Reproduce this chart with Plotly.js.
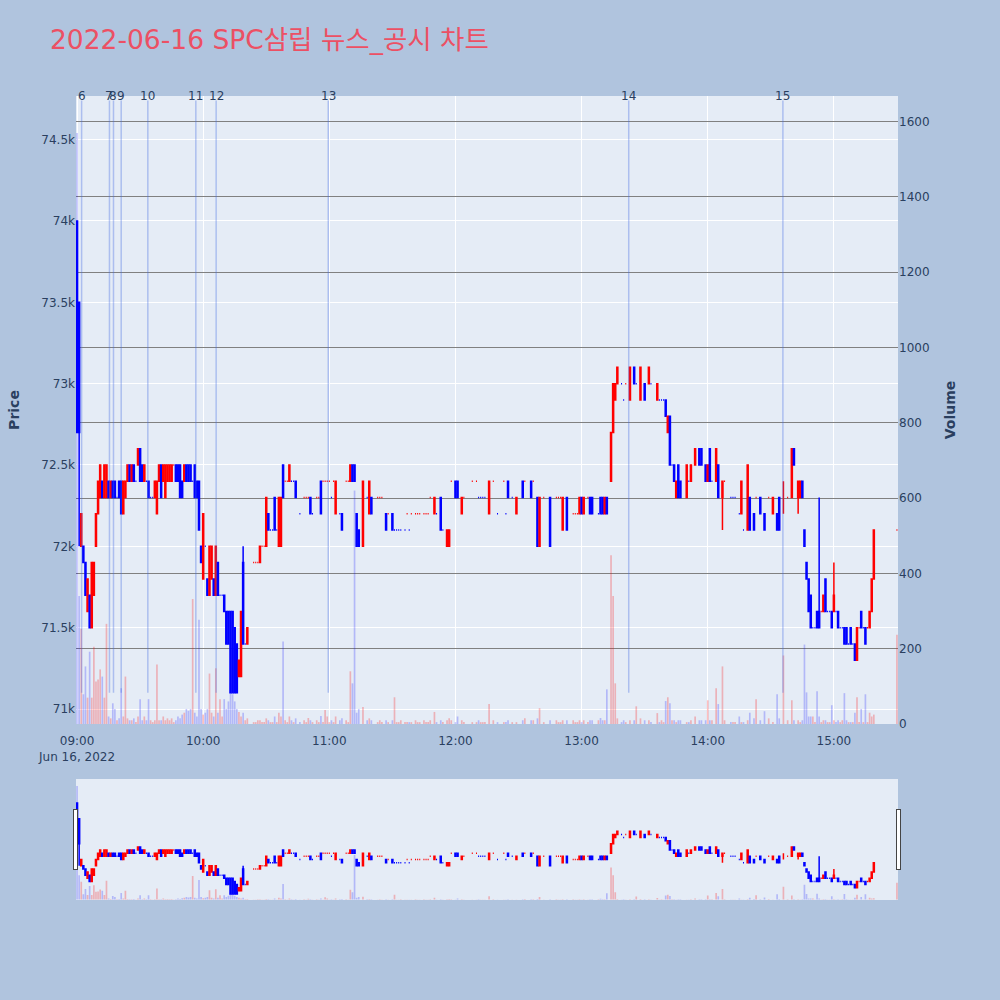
<!DOCTYPE html>
<html>
<head>
<meta charset="utf-8">
<script src="https://cdn.plot.ly/plotly-3.0.1.min.js"></script>
<style>
  body { margin: 0; background: #B0C4DE; }
  #chart { width: 1000px; height: 1000px; }
</style>
</head>
<body>
<div id="chart"></div>
<script>
// one slot per minute from 09:00 (null = no trade that minute), last slot is the 15:30 close
const startTime = "2022-06-16T09:00:00";

const openP = [
  74000,73500,72000,72000,71900,71600,71700,71500,71700,72000,
  72200,72300,72400,72300,72300,72400,72300,72400,72400,72300,
  72400,72400,72200,72300,72400,72500,72400,72500,72400,72500,
  72600,72500,72400,72400,72400,72300,72300,72300,72200,72400,
  72500,72400,72300,72400,72400,72400,72500,72500,72500,72500,
  72400,72400,72500,72500,72500,72400,72500,72400,72400,72000,
  71800,72000,71800,71700,71800,71800,71700,71900,71700,71700,
  71700,71600,71600,71600,71600,71500,71400,71200,71200,71900,
  71400,71400,null,null,71900,71900,71900,71900,72000,72000,
  72000,72200,72100,72100,72300,72100,72000,72000,72500,72400,
  72400,72400,72400,72400,72400,null,72200,null,72300,72300,
  72300,72300,72200,null,72300,72300,72400,72400,72400,72400,
  72400,72300,72400,72200,null,72200,72200,null,72400,72400,
  72400,72500,72500,72200,72100,null,72000,null,72300,72200,
  72300,null,null,72300,72300,72300,null,72200,72200,null,
  72200,72100,72100,72100,72100,null,72100,72200,72100,72200,
  null,72200,72200,72200,null,72200,72200,72200,72300,null,
  72200,72200,null,72300,72100,null,72000,72000,72400,null,
  72400,72400,null,72200,72300,null,null,null,72400,null,
  72400,72300,72300,72300,72300,null,72200,null,72400,null,
  72200,null,null,72400,72200,72400,null,72300,null,72200,
  null,null,72400,72400,null,null,72400,72400,null,72300,
  72000,null,72300,null,null,72300,null,null,72300,72300,
  72300,72100,null,72300,null,null,72200,72200,72200,72200,
  72300,72200,null,72300,72300,72300,null,null,72200,72300,
  72300,72200,72300,null,72400,72700,72900,73000,null,73000,
  72900,73000,null,72900,null,73100,73000,null,72900,null,
  73000,null,73000,73000,null,null,72900,72900,72900,72900,
  72900,72700,72800,72500,72500,72300,72500,72400,null,null,
  72300,72400,72400,null,72500,null,72600,72600,null,72500,
  72400,72600,72400,null,72400,72500,null,72300,72400,null,
  null,72300,72300,72300,null,72200,72200,72100,null,72100,
  72300,null,72200,72300,null,72300,null,72200,null,72300,
  null,72200,null,72200,72300,null,72300,null,72300,null,
  72300,72600,null,72300,72300,72400,72100,71900,71800,71700,
  71500,71500,71600,71600,71600,71600,71800,71600,71600,71600,
  71600,71600,71600,71500,71500,71500,71500,71400,71500,71400,
  71400,71300,71500,71600,71500,71500,71500,71500,71600,71800,
  null,null,null,null,null,null,null,null,null,null,
  72100
];

const highP = [
  74000,73500,72200,72000,71900,71800,71700,71900,71900,72200,
  72400,72500,72400,72500,72500,72400,72400,72400,72400,72300,
  72400,72400,72400,72400,72500,72500,72500,72500,72400,72600,
  72600,72500,72500,72400,72400,72300,72300,72400,72400,72500,
  72500,72500,72500,72500,72500,72500,72500,72500,72500,72500,
  72400,72500,72500,72500,72500,72400,72500,72400,72400,72000,
  72200,72000,71800,72000,72000,71800,72000,71900,71700,71700,
  71700,71600,71600,71600,71600,71500,71400,71300,71600,72000,
  71400,71500,null,null,71900,71900,71900,72000,72000,72000,
  72300,72200,72100,72100,72300,72100,72300,72300,72500,72400,
  72400,72500,72400,72400,72400,null,72200,null,72300,72300,
  72300,72300,72200,null,72300,72300,72400,72400,72400,72400,
  72400,72300,72400,72400,null,72200,72200,null,72400,72400,
  72500,72500,72500,72200,72100,null,72400,null,72300,72400,
  72300,null,null,72300,72300,72300,null,72200,72200,null,
  72200,72100,72100,72100,72100,null,72100,72200,72100,72200,
  null,72200,72200,72200,null,72200,72200,72200,72300,null,
  72300,72200,null,72300,72100,null,72100,72100,72400,null,
  72400,72400,null,72300,72300,null,null,null,72400,null,
  72400,72300,72300,72300,72300,null,72400,null,72400,null,
  72200,null,null,72400,72200,72400,null,72300,null,72300,
  null,null,72400,72400,null,null,72400,72400,null,72300,
  72300,null,72300,null,null,72300,null,null,72300,72300,
  72300,72300,null,72300,null,null,72200,72200,72200,72300,
  72300,72300,null,72300,72300,72300,null,null,72200,72300,
  72300,72300,72300,null,72700,73000,73000,73100,null,73000,
  72900,73000,null,73100,null,73100,73000,null,73100,null,
  73000,null,73100,73000,null,null,73000,72900,72900,72900,
  72900,72800,72800,72500,72500,72400,72500,72400,null,null,
  72500,72400,72500,null,72600,null,72600,72600,null,72500,
  72500,72600,72400,null,72600,72500,null,72400,72400,null,
  null,72300,72300,72300,null,72200,72400,72100,null,72500,
  72300,null,72200,72300,null,72300,null,72200,null,72300,
  null,72300,null,72200,72300,null,72400,null,72300,null,
  72600,72600,null,72400,72400,72400,72100,71900,71800,71700,
  71500,71500,71600,72300,71600,71700,71800,71600,71600,71600,
  71900,71600,71600,71500,71500,71500,71500,71400,71500,71400,
  71400,71500,71500,71600,71500,71500,71500,71600,71800,72100,
  null,null,null,null,null,null,null,null,null,null,
  72100
];

const lowP = [
  72700,72000,72000,71900,71700,71600,71500,71500,71700,72000,
  72200,72300,72300,72300,72300,72300,72300,72300,72300,72300,
  72300,72200,72200,72300,72400,72400,72400,72400,72400,72500,
  72400,72400,72400,72400,72300,72300,72300,72300,72200,72400,
  72300,72400,72300,72400,72400,72400,72500,72400,72400,72300,
  72300,72400,72400,72400,72400,72400,72300,72300,72100,71900,
  71800,72000,71700,71700,71800,71700,71700,71700,71700,71700,
  71600,71400,71400,71100,71100,71100,71100,71200,71200,71400,
  71400,71400,null,null,71900,71900,71900,71900,72000,72000,
  72000,72100,72100,72100,72100,72100,72000,72000,72300,72400,
  72400,72400,72400,72400,72300,null,72200,null,72300,72300,
  72300,72200,72200,null,72300,72300,72200,72400,72400,72400,
  72400,72300,72400,72200,null,72200,72100,null,72400,72400,
  72400,72400,72400,72000,72000,null,72000,null,72300,72200,
  72200,null,null,72300,72300,72300,null,72100,72200,null,
  72100,72100,72100,72100,72100,null,72100,72200,72100,72200,
  null,72200,72200,72200,null,72200,72200,72200,72300,null,
  72200,72200,null,72100,72100,null,72000,72000,72400,null,
  72300,72300,null,72200,72300,null,null,null,72400,null,
  72400,72300,72300,72300,72300,null,72200,null,72400,null,
  72200,null,null,72400,72200,72300,null,72300,null,72200,
  null,null,72300,72400,null,null,72300,72400,null,72000,
  72000,null,72300,null,null,72000,null,null,72300,72300,
  72300,72100,null,72100,null,null,72200,72200,72200,72200,
  72200,72200,null,72300,72200,72200,null,null,72200,72200,
  72200,72200,72200,null,72400,72700,72900,73000,null,73000,
  72900,73000,null,72900,null,73000,73000,null,72900,null,
  72900,null,73000,73000,null,null,72900,72900,72900,72900,
  72800,72700,72500,72500,72400,72300,72300,72300,null,null,
  72300,72400,72400,null,72500,null,72500,72500,null,72400,
  72400,72400,72400,null,72400,72300,null,72100,72400,null,
  null,72300,72300,72300,null,72200,72200,72100,null,72100,
  72100,null,72100,72300,null,72200,null,72100,null,72300,
  null,72200,null,72100,72100,null,72200,null,72300,null,
  72300,72500,null,72200,72300,72300,72000,71800,71600,71500,
  71500,71500,71500,71500,71600,71600,71600,71600,71600,71500,
  71600,71600,71500,71500,71500,71400,71400,71400,71400,71400,
  71300,71300,71500,71500,71500,71400,71500,71500,71600,71800,
  null,null,null,null,null,null,null,null,null,null,
  72100
];

const closeP = [
  72700,72700,72200,71900,71700,71800,71500,71900,71900,72200,
  72400,72500,72300,72500,72500,72300,72400,72300,72300,72300,
  72300,72200,72400,72400,72500,72400,72500,72400,72400,72600,
  72400,72400,72500,72400,72300,72300,72300,72400,72400,72500,
  72300,72500,72500,72500,72500,72500,72500,72400,72400,72300,
  72300,72500,72400,72400,72400,72400,72300,72300,72100,71900,
  72200,72000,71700,72000,72000,71700,72000,71700,71700,71700,
  71600,71400,71400,71100,71100,71100,71100,71300,71600,71400,
  71400,71500,null,null,71900,71900,71900,72000,72000,72000,
  72300,72100,72100,72100,72100,72100,72300,72300,72300,72400,
  72400,72500,72400,72400,72300,null,72200,null,72300,72300,
  72300,72200,72200,null,72300,72300,72200,72400,72400,72400,
  72400,72300,72400,72400,null,72200,72100,null,72400,72400,
  72500,72400,72400,72000,72000,null,72400,null,72300,72400,
  72200,null,null,72300,72300,72300,null,72100,72200,null,
  72100,72100,72100,72100,72100,null,72100,72200,72100,72200,
  null,72200,72200,72200,null,72200,72200,72200,72300,null,
  72300,72200,null,72100,72100,null,72100,72100,72400,null,
  72300,72300,null,72300,72300,null,null,null,72400,null,
  72400,72300,72300,72300,72300,null,72400,null,72400,null,
  72200,null,null,72400,72200,72300,null,72300,null,72300,
  null,null,72300,72400,null,null,72300,72400,null,72000,
  72300,null,72300,null,null,72000,null,null,72300,72300,
  72300,72300,null,72100,null,null,72200,72200,72200,72300,
  72200,72300,null,72300,72200,72200,null,null,72200,72200,
  72200,72300,72200,null,72700,73000,73000,73100,null,73000,
  72900,73000,null,73100,null,73000,73000,null,73100,null,
  72900,null,73100,73000,null,null,73000,72900,72900,72900,
  72800,72800,72500,72500,72400,72400,72300,72300,null,null,
  72500,72400,72500,null,72600,null,72500,72500,null,72400,
  72500,72400,72400,null,72600,72300,null,72400,72400,null,
  null,72300,72300,72300,null,72200,72400,72100,null,72500,
  72100,null,72100,72300,null,72200,null,72100,null,72300,
  null,72300,null,72100,72100,null,72300,null,72300,null,
  72600,72500,null,72400,72400,72300,72000,71800,71600,71500,
  71500,71500,71500,71500,71600,71700,71600,71600,71600,71500,
  71700,71600,71500,71500,71500,71400,71400,71400,71400,71400,
  71300,71500,71500,71500,71500,71400,71500,71600,71800,72100,
  null,null,null,null,null,null,null,null,null,null,
  72100
];

const volume = [
  1570,340,253,79,153,70,192,70,205,113,
  118,145,126,70,266,20,15,55,40,10,
  15,95,20,126,15,10,10,15,5,20,
  66,10,20,10,66,10,5,10,158,10,
  10,20,10,15,10,15,5,10,20,15,
  25,30,40,35,40,332,30,20,277,40,
  25,30,40,134,30,20,148,30,66,20,
  66,40,60,108,79,60,40,32,20,30,
  10,15,0,0,5,5,10,10,5,5,
  15,10,5,5,20,5,30,20,219,10,
  5,20,10,5,15,0,5,0,10,5,
  16,10,5,0,10,5,21,5,37,20,
  5,10,5,20,0,10,15,0,10,5,
  140,108,620,30,40,0,45,0,10,15,
  10,0,0,5,10,5,0,10,5,0,
  10,71,5,5,10,0,5,5,5,5,
  0,10,5,5,0,10,5,5,10,0,
  32,5,0,10,5,0,10,15,10,0,
  5,20,0,10,5,0,0,0,5,0,
  5,10,5,5,5,0,53,0,10,0,
  5,0,0,5,5,10,0,5,0,5,
  0,0,10,15,0,0,10,10,0,15,
  42,0,5,0,0,10,0,0,10,5,
  5,10,0,10,0,0,10,5,5,10,
  5,10,0,5,10,10,0,0,10,16,
  10,10,92,0,448,340,108,15,0,5,
  10,5,0,10,0,10,47,0,15,0,
  10,0,10,5,0,0,29,5,10,5,
  61,71,55,10,10,5,10,10,0,0,
  5,5,10,0,20,0,10,10,0,10,
  63,10,10,0,95,53,0,153,10,0,
  0,5,5,5,0,20,5,5,0,10,
  30,0,15,66,0,10,0,34,0,15,
  0,5,0,79,15,0,182,0,10,0,
  63,10,0,10,5,10,211,84,20,20,
  20,5,87,20,5,10,10,5,5,50,
  10,5,10,5,10,82,10,5,5,5,
  30,71,5,40,5,79,5,30,20,25,
  0,0,0,0,0,0,0,0,0,0,
  237
];

// news / disclosure markers
const newsLabels = ["6", "7", "8", "9", "10", "11", "12", "13", "14", "15"];
const newsTimes = [
  "2022-06-16 09:02:10", "2022-06-16 09:15:25", "2022-06-16 09:17:20",
  "2022-06-16 09:21:00", "2022-06-16 09:33:40", "2022-06-16 09:56:30",
  "2022-06-16 10:06:10", "2022-06-16 10:59:30", "2022-06-16 13:22:25",
  "2022-06-16 14:35:45"
];

function buildTimes(n) {
    const t0 = new Date(startTime + "Z").getTime();
    const out = [];
    for (let i = 0; i < n; i++) {
        out.push(new Date(t0 + i * 60000).toISOString().slice(0, 19).replace("T", " "));
    }
    return out;
}

function volumeColors() {
    const cols = [];
    let prev = null;
    for (let i = 0; i < closeP.length; i++) {
        const o = openP[i], c = closeP[i];
        let up = true;
        if (o === null) {
            up = true;
        } else if (c > o) {
            up = true;
        } else if (c < o) {
            up = false;
        } else {
            up = prev === null ? true : c >= prev;
        }
        if (c !== null) prev = c;
        cols.push(up ? "rgba(255,0,0,0.25)" : "rgba(0,0,255,0.22)");
    }
    return cols;
}

function drawChart() {
    const times = buildTimes(closeP.length);
    const xRange = ["2022-06-16 08:59:30", "2022-06-16 15:30:30"];

    const data = [
        {
            type: "bar",
            x: times,
            y: volume,
            yaxis: "y2",
            marker: { color: volumeColors() },
            name: "Volume",
            hoverinfo: "x+y"
        },
        {
            type: "candlestick",
            x: times,
            open: openP,
            high: highP,
            low: lowP,
            close: closeP,
            increasing: { line: { color: "red", width: 1.5 }, fillcolor: "red" },
            decreasing: { line: { color: "blue", width: 1.5 }, fillcolor: "blue" },
            name: "Price"
        }
    ];

    const shapes = newsTimes.map(t => ({
        type: "line",
        xref: "x",
        yref: "y",
        x0: t, x1: t,
        y0: 71100, y1: 74740,
        line: { color: "rgba(65,105,225,0.35)", width: 1.5 },
        layer: "above"
    }));

    const annotations = newsTimes.map((t, k) => ({
        x: t,
        xref: "x",
        y: 1,
        yref: "paper",
        yanchor: "middle",
        text: newsLabels[k],
        showarrow: false,
        font: { size: 12, color: "#2a3f5f" }
    }));

    const layout = {
        width: 1000,
        height: 1000,
        paper_bgcolor: "#B0C4DE",
        plot_bgcolor: "#E5ECF6",
        font: { family: '"DejaVu Sans", "Noto Sans CJK KR", verdana, sans-serif', color: "#2a3f5f", size: 12 },
        title: {
            text: "2022-06-16 SPC삼립 뉴스_공시 차트",
            xref: "container", x: 0.05, xanchor: "left",
            yref: "container", y: 0.96, yanchor: "middle",
            font: { size: 26.5, color: "#EC5064" }
        },
        margin: { l: 76, r: 102, t: 96, b: 100 },
        showlegend: false,
        xaxis: {
            type: "date",
            range: xRange,
            gridcolor: "white",
            zeroline: false,
            ticks: "outside",
            ticklen: 6,
            tickcolor: "rgba(0,0,0,0)",
            rangeslider: { visible: true, thickness: 0.15, bgcolor: "#E5ECF6", range: xRange }
        },
        yaxis: {
            title: { text: "Price", font: { size: 14, weight: "bold" }, standoff: 18 },
            range: [70908, 74768],
            dtick: 500,
            gridcolor: "white",
            zeroline: false
        },
        yaxis2: {
            title: { text: "Volume", font: { size: 14, weight: "bold" }, standoff: 16 },
            overlaying: "y",
            side: "right",
            range: [0, 1668],
            dtick: 200,
            showgrid: true,
            gridcolor: "gray",
            zeroline: false
        },
        shapes: shapes,
        annotations: annotations
    };

    Plotly.newPlot("chart", data, layout, { displayModeBar: false });
}

document.addEventListener("DOMContentLoaded", drawChart);
</script>
</body>
</html>
